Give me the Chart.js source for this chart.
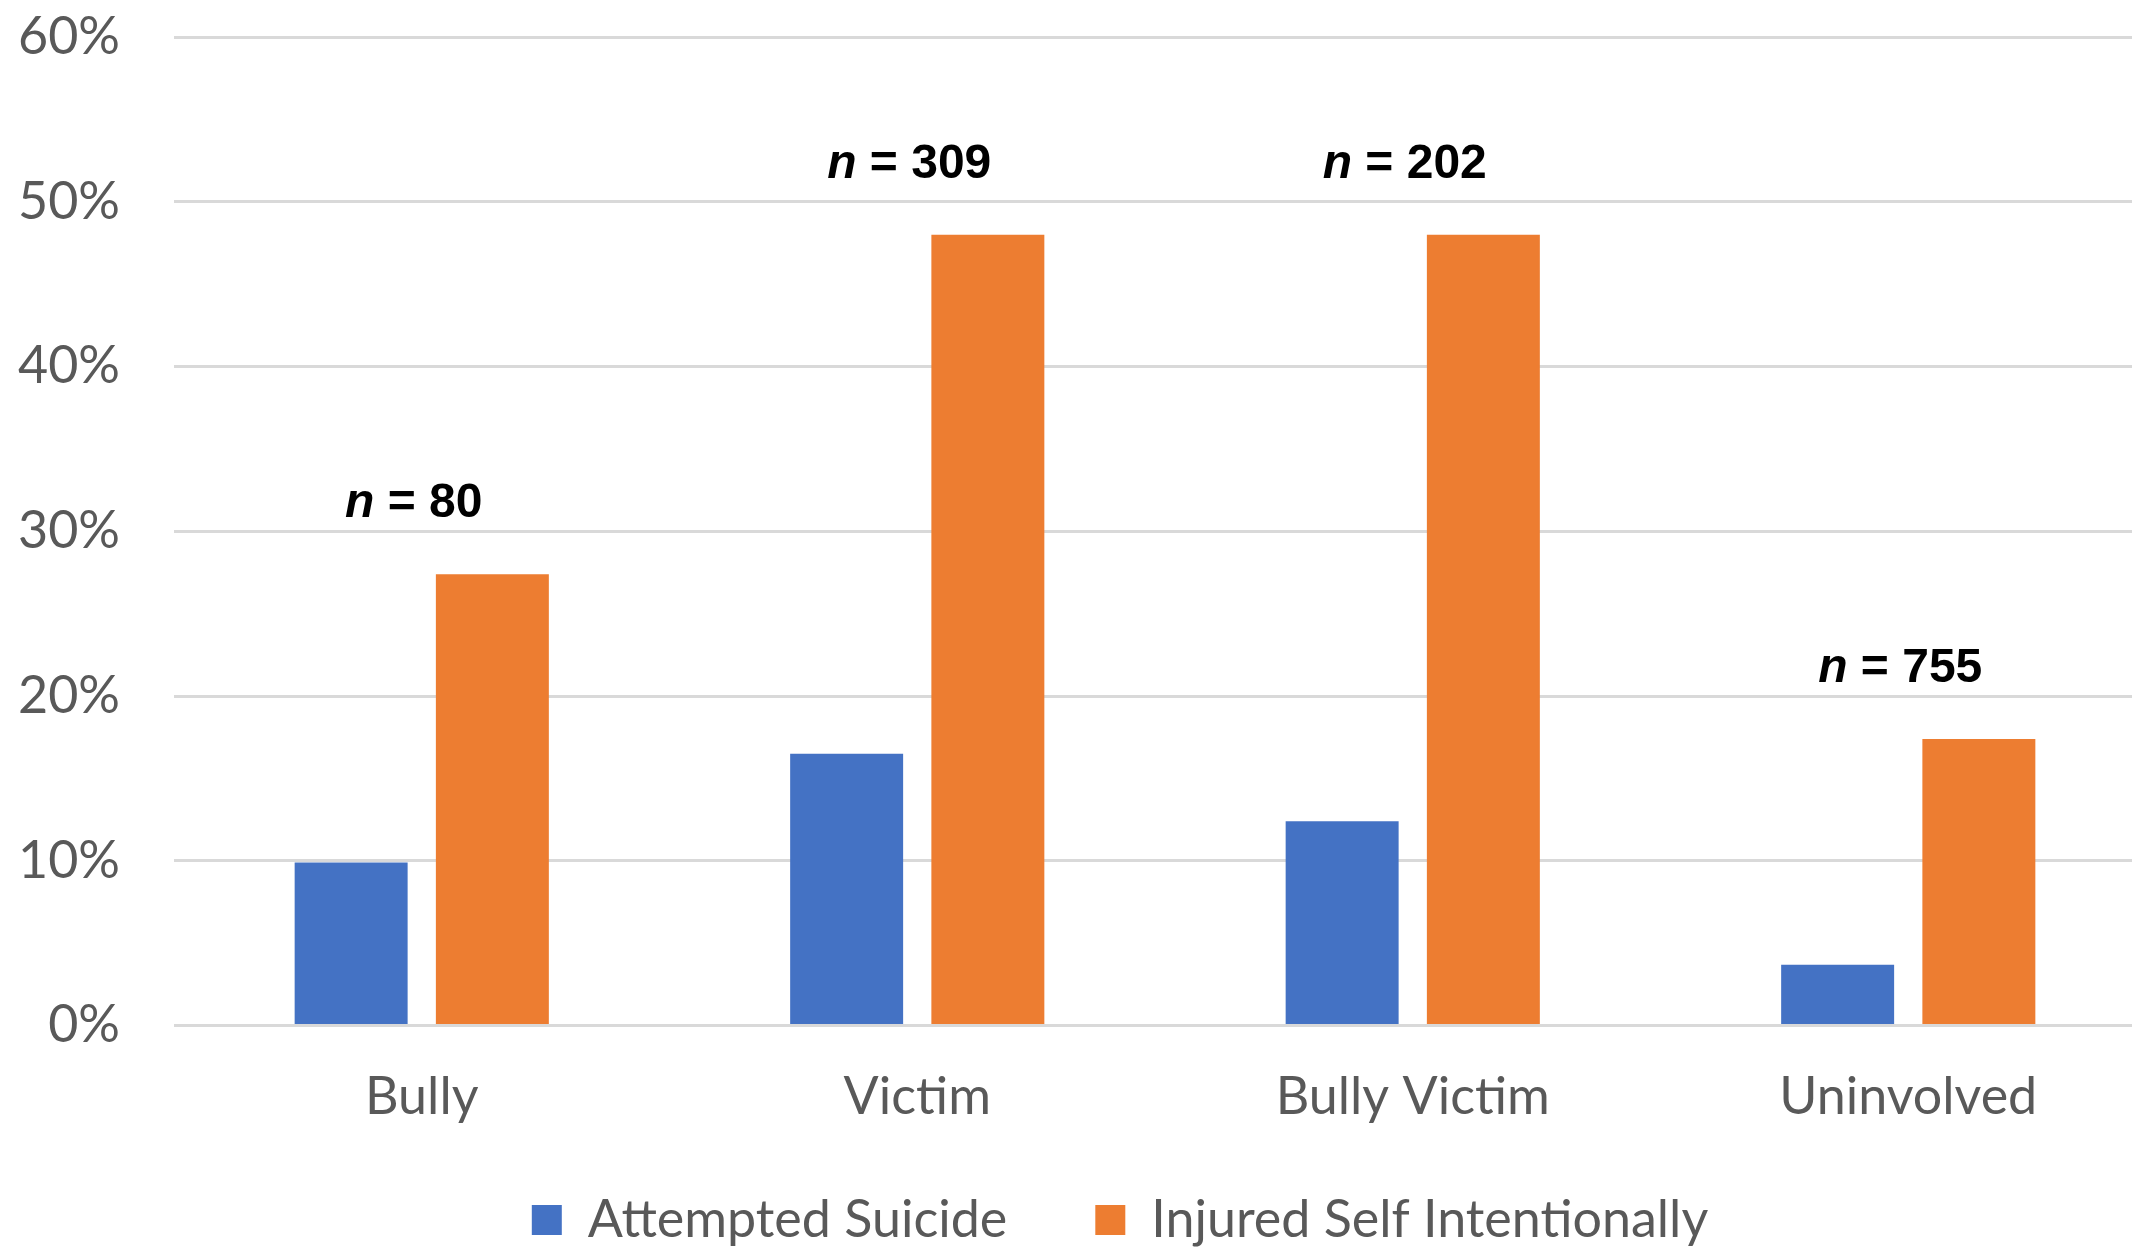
<!DOCTYPE html>
<html>
<head>
<meta charset="utf-8">
<script src="https://cdn.jsdelivr.net/npm/chart.js@4/dist/chart.umd.min.js"></script>
<style>
  html, body { margin: 0; padding: 0; background: #fff; overflow: hidden; }
  #wrap { width: 2156px; height: 1248px; }
</style>
</head>
<body>
<!-- plot runs slightly past the right edge of the picture, as in the original -->
<div id="wrap"><canvas id="myChart" width="2156" height="1248"></canvas></div>
<script>
let categories = ['Bully', 'Victim', 'Bully Victim', 'Uninvolved'];
let attempted = [9.9, 16.5, 12.4, 3.7];
let injured = [27.4, 48.0, 48.0, 17.4];
let sampleSizes = [80, 309, 202, 755];
let seriesNames = ['Attempted Suicide', 'Injured Self Intentionally'];
let colors = ['#4472C4', '#ED7D31'];

// "n = xx" labels above each group, plus legend placement tweak
let nLabels = {
    id: 'nLabels',
    afterLayout(chart) {
        let lg = chart.legend;
        let dy = 1106 - lg.top;
        lg.top += dy;
        lg.bottom += dy;
        lg.left += 42;
        lg.right += 42;
    },
    afterDatasetsDraw(chart) {
        let ctx = chart.ctx;
        let x = chart.scales.x;
        let y = chart.scales.y;
        ctx.save();
        ctx.fillStyle = '#000';
        ctx.textBaseline = 'middle';
        ctx.textAlign = 'left';
        sampleSizes.forEach((n, i) => {
            let top = Math.max(attempted[i], injured[i]);
            let cy = y.getPixelForValue(top) - 70;
            let cx = x.getPixelForValue(i) - 8;
            ctx.font = 'italic bold 48px "Liberation Sans", Arial';
            let w1 = ctx.measureText('n').width;
            ctx.font = 'bold 48px "Liberation Sans", Arial';
            let rest = ' = ' + n;
            let w2 = ctx.measureText(rest).width;
            let sx = cx - (w1 + w2) / 2;
            ctx.font = 'italic bold 48px "Liberation Sans", Arial';
            ctx.fillText('n', sx, cy);
            ctx.font = 'bold 48px "Liberation Sans", Arial';
            ctx.fillText(rest, sx + w1, cy);
        });
        ctx.restore();
    }
};

let chart = new Chart(document.getElementById('myChart').getContext('2d'), {
    type: 'bar',
    data: {
        labels: categories,
        datasets: [
            { label: seriesNames[0], data: attempted, backgroundColor: colors[0] },
            { label: seriesNames[1], data: injured, backgroundColor: colors[1] }
        ]
    },
    options: {
        responsive: false,
        animation: false,
        devicePixelRatio: 1,
        layout: { padding: { left: 0, right: 0, top: 37, bottom: -70 } },
        datasets: {
            bar: { categoryPercentage: 0.57, barPercentage: 0.8 }
        },
        scales: {
            x: {
                grid: { display: false, drawTicks: false },
                border: { display: false },
                ticks: {
                    color: '#595959',
                    font: { family: 'Lato', size: 52 },
                    padding: 40
                },
                afterFit(s) {
                    s.paddingLeft = 0;
                    s.paddingRight = 0;
                }
            },
            y: {
                min: 0,
                max: 60,
                border: { display: false },
                grid: { color: '#d9d9d9', lineWidth: 3, drawTicks: false },
                ticks: {
                    stepSize: 10,
                    color: '#595959',
                    font: { family: 'Lato', size: 52 },
                    padding: 54,
                    callback: v => v + '%'
                },
                afterFit(s) {
                    s.width = 174;
                    s.paddingTop = 0;
                    s.paddingBottom = 0;
                }
            }
        },
        plugins: {
            legend: {
                position: 'bottom',
                labels: {
                    color: '#595959',
                    font: { family: 'Lato', size: 52 },
                    boxWidth: 30,
                    boxHeight: 30,
                    padding: 88
                }
            },
            tooltip: { enabled: false }
        }
    },
    plugins: [nLabels]
});
</script>
</body>
</html>
